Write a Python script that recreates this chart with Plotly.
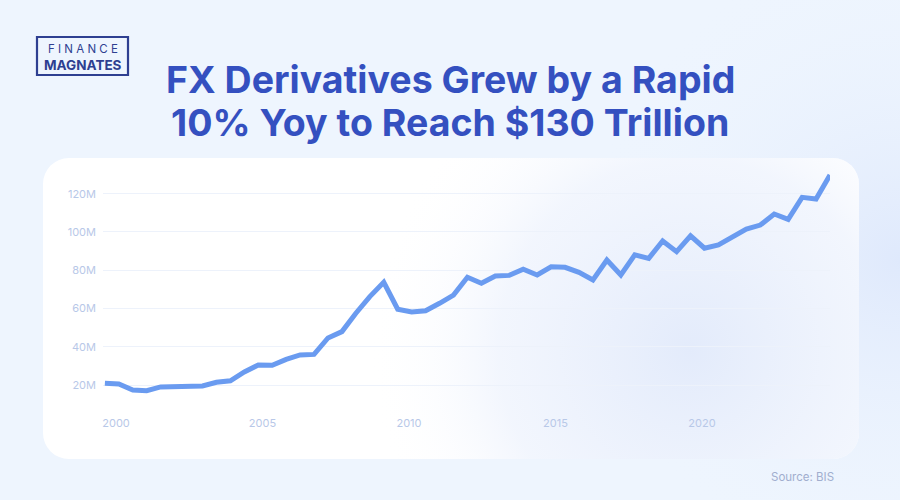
import base64
import numpy as np
import plotly.graph_objects as go

# ---- data ----
values_m = [20.9, 20.5, 17.4, 17.0, 19.0, 19.1, 19.3, 19.5, 21.4, 22.2,
            26.8, 30.5, 30.3, 33.4, 35.7, 36.0, 44.6, 47.9, 57.5, 66.2,
            73.7, 59.6, 58.2, 58.8, 62.7, 67.0, 76.3, 73.2, 77.0, 77.3,
            80.5, 77.5, 81.8, 81.5, 78.9, 74.9, 85.3, 77.5, 88.0, 86.2,
            95.3, 89.7, 98.0, 91.5, 93.2, 97.0, 101.5, 103.6, 109.4, 106.6,
            118.1, 117.2, 129.8]
period_start, period_end = 1999.62, 2024.37
periods = np.linspace(period_start, period_end, len(values_m))
x_tick_vals = [2000, 2005, 2010, 2015, 2020]
x_tick_text = ["2000", "2005", "2010", "2015", "2020"]
y_tick_vals = [20, 40, 60, 80, 100, 120]
y_tick_text = ["20M", "40M", "60M", "80M", "100M", "120M"]

title_lines = ["FX Derivatives Grew by a Rapid", "10% Yoy to Reach $130 Trillion"]
logo_top, logo_bottom = "F I N A N C E", "MAGNATES"
source_text = "Source: BIS"

# ---- layout geometry ----
W, H = 900, 500
L, R, T, B = 103, 70, 165, 95
PW, PH = W - L - R, H - T - B


def px(x):
    return (x - L) / PW


def py(y):
    return 1 + (T - y) / PH


svg = f'''<svg xmlns="http://www.w3.org/2000/svg" width="{W}" height="{H}" viewBox="0 0 {W} {H}" preserveAspectRatio="none">
<defs>
<radialGradient id="bg" gradientUnits="userSpaceOnUse" cx="900" cy="260" r="320">
<stop offset="0" stop-color="#dfe9fc"/><stop offset="1" stop-color="#eef5fe" stop-opacity="0"/></radialGradient>
<radialGradient id="cg" gradientUnits="userSpaceOnUse" cx="690" cy="350" r="320">
<stop offset="0" stop-color="#e3ebfb"/><stop offset="0.6" stop-color="#eef3fd" stop-opacity="0.75"/><stop offset="1" stop-color="#ffffff" stop-opacity="0"/></radialGradient>
</defs>
<rect width="{W}" height="{H}" fill="#eef5fe"/>
<rect width="{W}" height="{H}" fill="url(#bg)"/>
<rect x="43" y="158" width="816" height="301" rx="26" ry="26" fill="#ffffff"/>
<rect x="43" y="158" width="816" height="301" rx="26" ry="26" fill="url(#cg)"/>
</svg>'''
svg_uri = "data:image/svg+xml;base64," + base64.b64encode(svg.encode()).decode()

fig = go.Figure()
fig.add_trace(go.Scatter(
    x=periods, y=values_m, mode="lines",
    line=dict(color="#6a9bf0", width=5),
    cliponaxis=False, hoverinfo="skip", showlegend=False,
))

FONT = "Inter, Lato, sans-serif"
tick_font = dict(family=FONT, size=11, color="#b8c8e8")

annotations = []
for line_text, yy in zip(title_lines, [80, 123]):
    annotations.append(dict(
        text=line_text, xref="paper", yref="paper", x=px(450), y=py(yy),
        xanchor="center", yanchor="middle", showarrow=False,
        font=dict(family=FONT, size=37.5, color="#3450c0", weight=700)))
annotations += [
    dict(text=logo_top, xref="paper", yref="paper", x=px(82.5), y=py(49),
         xanchor="center", yanchor="middle", showarrow=False, borderpad=0,
         font=dict(family=FONT, size=11.5, color="#2e3f91", weight=400)),
    dict(text=logo_bottom, xref="paper", yref="paper", x=px(82.5), y=py(65),
         xanchor="center", yanchor="middle", showarrow=False, borderpad=0,
         font=dict(family=FONT, size=13.5, color="#2e3f91", weight=700)),
    dict(text=source_text, xref="paper", yref="paper", x=px(836), y=py(477),
         xanchor="right", yanchor="middle", showarrow=False,
         font=dict(family=FONT, size=11.5, color="#a1aece")),
]

fig.update_layout(
    width=W, height=H,
    margin=dict(l=L, r=R, t=T, b=B, pad=0),
    paper_bgcolor="#eef5fe", plot_bgcolor="rgba(0,0,0,0)",
    showlegend=False,
    xaxis=dict(range=[1999.556, 2024.37], tickvals=x_tick_vals, ticktext=x_tick_text,
               showgrid=False, zeroline=False, showline=False, ticks="",
               tickfont=tick_font, ticklabelstandoff=10),
    yaxis=dict(range=[9.55, 135.0], tickvals=y_tick_vals, ticktext=y_tick_text,
               showgrid=True, gridcolor="#edf2fb", gridwidth=1, zeroline=False,
               showline=False, ticks="", tickfont=tick_font, ticklabelstandoff=6),
    images=[dict(source=svg_uri, xref="paper", yref="paper",
                 x=-L / PW, y=1 + T / PH, sizex=W / PW, sizey=H / PH,
                 xanchor="left", yanchor="top", sizing="stretch", layer="below")],
    shapes=[dict(type="rect", xref="paper", yref="paper",
                 x0=px(37), x1=px(128), y0=py(37), y1=py(75),
                 line=dict(color="#2e3f91", width=2.2), fillcolor="rgba(0,0,0,0)")],
    annotations=annotations,
)

fig.write_html("out.html", config={"displayModeBar": False},
               post_script="document.body.style.margin='0px';document.body.style.background='#eef5fe';")
